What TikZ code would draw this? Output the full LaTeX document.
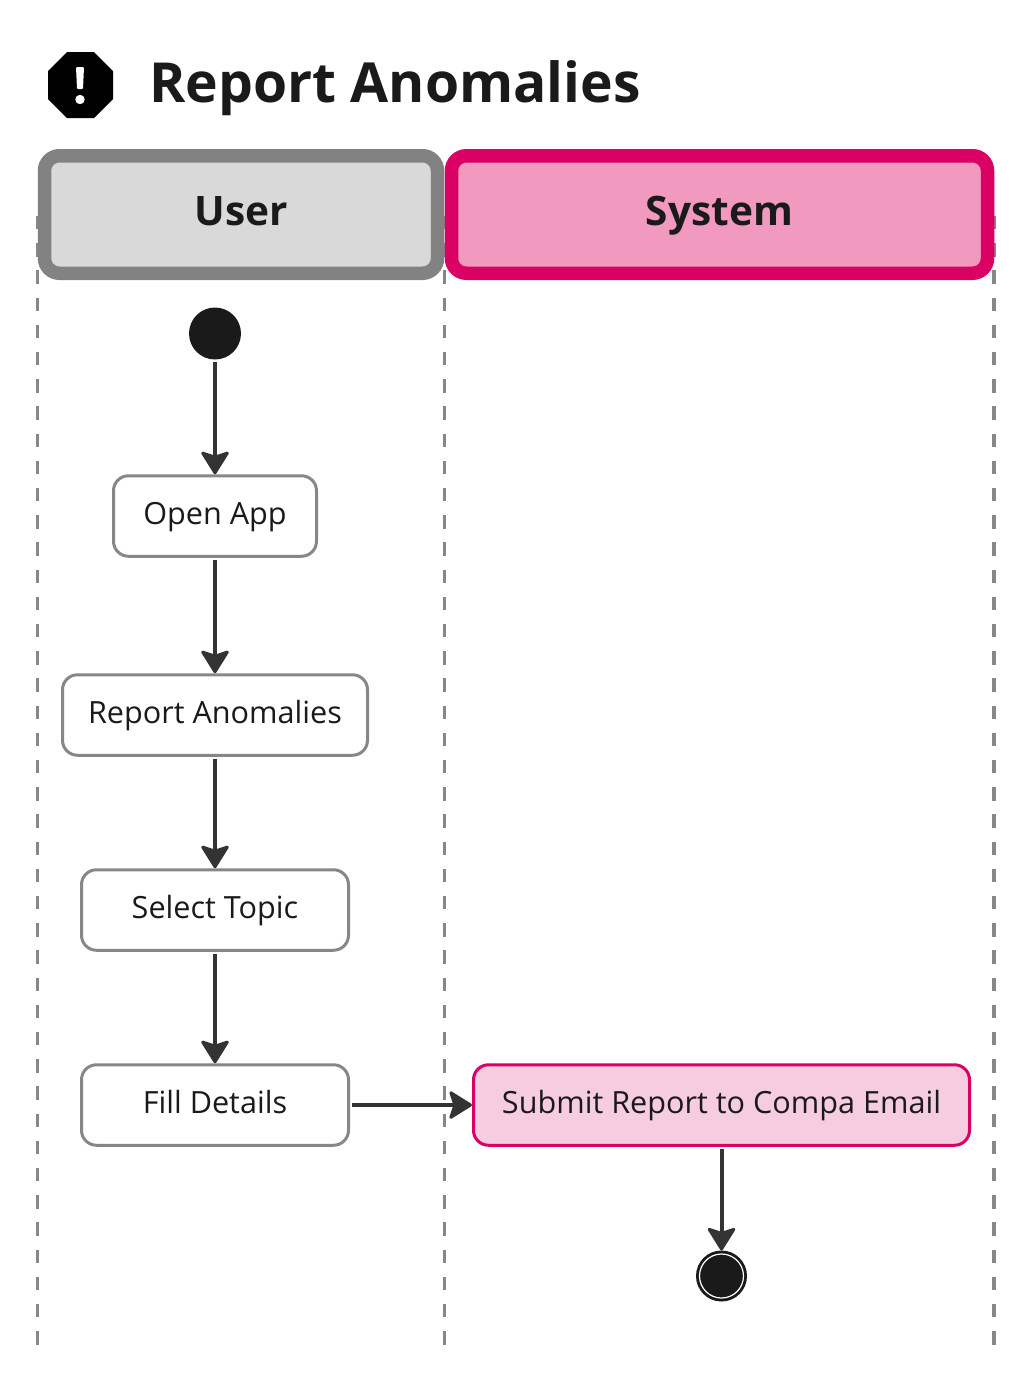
\documentclass[tikz,border=0pt]{standalone}
\usepackage{fontspec}
\setmainfont{Open Sans}
\usetikzlibrary{arrows.meta,calc}
\definecolor{greyline}{HTML}{878787}
\definecolor{headline}{HTML}{828282}
\definecolor{headgrey}{HTML}{D9D9D9}
\definecolor{pinkline}{HTML}{DB0063}
\definecolor{headpink}{HTML}{F199BF}
\definecolor{boxpink}{HTML}{F6CCE0}
\definecolor{ink}{HTML}{1A1A1A}
\definecolor{arrowc}{HTML}{333333}
\tikzset{
  lanedash/.style={draw=greyline,line width=3.4pt,dash pattern=on 13.3pt off 13.9pt},
  headbox/.style={line width=13.5pt,rounded corners=15pt,inner sep=0pt},
  headtext/.style={anchor=base,inner sep=0pt,font=\fontsize{40.6}{46}\selectfont\bfseries,text=ink},
  actbox/.style={draw=greyline,fill=white,line width=3pt,rounded corners=15pt,minimum height=80.5pt,inner sep=0pt,
    font=\fontsize{30.6}{36}\selectfont,text=ink,text height=24pt,text depth=8pt},
  flow/.style={draw=arrowc,line width=4pt,shorten <=2pt,-{Stealth[length=25pt,width=31pt,inset=5pt,round,line width=3pt]}},
}
\begin{document}
\begin{tikzpicture}[x=1pt,y=-1pt]
\useasboundingbox (0,0) rectangle (1030,1374);
% lane lines
\coordinate (l1t) at (37.5,216); \coordinate (l1b) at (37.5,1345);
\coordinate (l2t) at (444.5,216); \coordinate (l2b) at (444.5,1345);
\coordinate (l3t) at (994,216); \coordinate (l3b) at (994,1345);
\draw[lanedash] (l1t) -- (l1b);
\draw[lanedash] (l2t) -- (l2b);
\draw[lanedash] (l3t) -- (l3b);
% title
\fill[black] (67,52) -- (94,52) -- (113,71) -- (113,99) -- (94,118) -- (67,118) -- (48,99) -- (48,71) -- cycle;
\fill[white,rounded corners=1pt] (76,67) -- (84,67) -- (83,89) -- (77,89) -- cycle;
\fill[white] (80,99.5) circle (4.7);
\node[anchor=base west,inner sep=0pt,font=\fontsize{55.2}{62}\selectfont\bfseries,text=ink] (title) at (149,102) {Report Anomalies};
% headers
\node[headbox,draw=headline,fill=headgrey,minimum width=393pt,minimum height=117.5pt] (user) at (241,214.5) {};
\node[headbox,draw=pinkline,fill=headpink,minimum width=536pt,minimum height=117.5pt] (system) at (719.5,214.5) {};
\node[headtext] (userl) at (241.5,225) {User};
\node[headtext] (sysl) at (719.5,225) {System};
% activities
\node[circle,fill=ink,minimum size=52pt,inner sep=0pt] (start) at (215,333.5) {};
\node[actbox,minimum width=203pt] (open) at (215,516) {Open App};
\node[actbox,minimum width=305pt] (report) at (215,715) {Report Anomalies};
\node[actbox,minimum width=267pt] (topic) at (215,910) {Select Topic};
\node[actbox,minimum width=267pt] (fill) at (215,1105) {Fill Details};
\node[actbox,draw=pinkline,fill=boxpink,minimum width=496pt] (submit) at (721.5,1105) {Submit Report to Compa Email};
\node[circle,draw=ink,fill=ink,line width=3pt,minimum size=48pt,inner sep=0pt] (end) at (721.5,1276) {};
\draw[white,line width=1.2pt] (end.center) circle (22);
% flows
\draw[flow] (start) -- (open);
\draw[flow] (open) -- (report);
\draw[flow] (report) -- (topic);
\draw[flow] (topic) -- (fill);
\draw[flow] (fill) -- (submit);
\draw[flow] (submit) -- (end);
\end{tikzpicture}
\end{document}
